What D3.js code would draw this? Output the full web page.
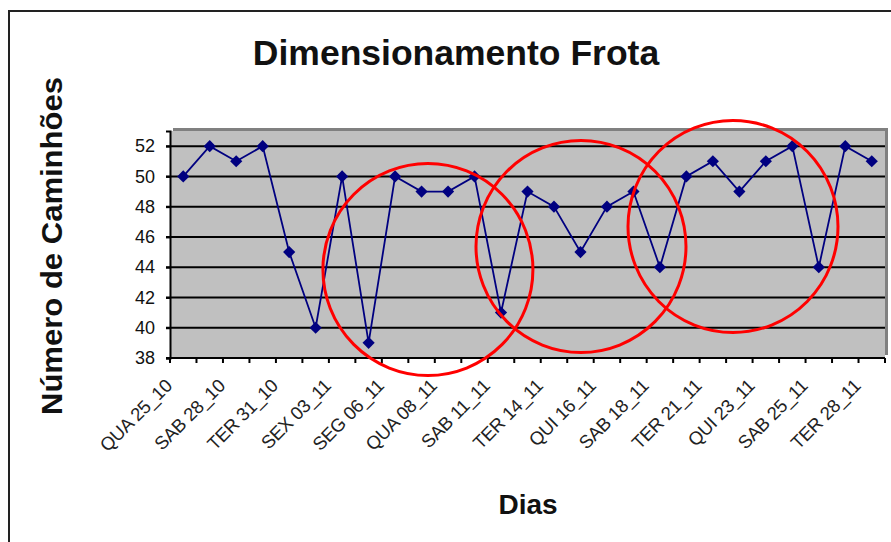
<!DOCTYPE html>
<html>
<head>
<meta charset="utf-8">
<script src="https://cdn.jsdelivr.net/npm/d3@7"></script>
<style>
  body { margin: 0; background: #fff; }
  svg { display: block; font-family: "Liberation Sans", Arial, sans-serif; }
</style>
</head>
<body>
<script>
// categories (only every second one gets a label on the axis)
var days = ['QUA 25_10', 'SEX 27_10', 'SAB 28_10', 'SEG 30_10', 'TER 31_10', 'QUI 02_11',
            'SEX 03_11', 'SAB 04_11', 'SEG 06_11', 'TER 07_11', 'QUA 08_11', 'QUI 09_11',
            'SAB 11_11', 'SEG 13_11', 'TER 14_11', 'QUA 15_11', 'QUI 16_11', 'SEX 17_11',
            'SAB 18_11', 'SEG 20_11', 'TER 21_11', 'QUA 22_11', 'QUI 23_11', 'SEX 24_11',
            'SAB 25_11', 'SEG 27_11', 'TER 28_11'];
var trucks = [50, 52, 51, 52, 45, 40, 50, 39, 50, 49, 49, 50, 41, 49,
              48, 45, 48, 49, 44, 50, 51, 49, 51, 52, 44, 52, 51];
var yTicks = [38, 40, 42, 44, 46, 48, 50, 52];
// red circles drawn on top: centre as (category index, value)
var circleIdx = [9.24, 15.02, 20.76];
var circleVal = [43.85, 45.37, 46.69];

var scr = { w: 891, h: 542 };
var plot = { left: 170, right: 885, top: 131, bottom: 358 };

var svg = d3.select('body').append('svg')
            .attr('width', scr.w)
            .attr('height', scr.h);

// outer chart border (runs off the right and bottom of the picture)
svg.append('rect')
   .attr('x', 9).attr('y', 11)
   .attr('width', 900).attr('height', 560)
   .attr('fill', '#fff')
   .attr('stroke', '#222')
   .attr('stroke-width', 2);

var xScale = d3.scaleBand()
               .domain(days)
               .range([plot.left, plot.right]);
var step = xScale.step();
var xPos = function(i){ // centre of category i (can be fractional)
  return plot.left + step * (i + 0.5);
};
var yScale = d3.scaleLinear()
               .domain([38, 53])
               .range([plot.bottom, plot.top]);

// plot area with its shadow
svg.append('rect')
   .attr('x', plot.left + 3).attr('y', plot.top - 3)
   .attr('width', plot.right - plot.left).attr('height', plot.bottom - plot.top)
   .attr('fill', '#808080');
svg.append('rect')
   .attr('x', plot.left).attr('y', plot.top)
   .attr('width', plot.right - plot.left).attr('height', plot.bottom - plot.top)
   .attr('fill', '#c0c0c0');

// gridlines
svg.append('g')
   .selectAll('line')
   .data(yTicks)
   .enter()
   .append('line')
   .attr('x1', plot.left - 4)
   .attr('x2', plot.right)
   .attr('y1', function(d){ return yScale(d); })
   .attr('y2', function(d){ return yScale(d); })
   .attr('stroke', '#000')
   .attr('stroke-width', 2);

// y axis
var yAxis = d3.axisLeft(yScale)
              .tickValues(yTicks)
              .tickSize(4)
              .tickPadding(11);
var yG = svg.append('g')
            .attr('transform', 'translate(' + plot.left + ',0)')
            .call(yAxis);
yG.select('.domain').attr('stroke', '#000').attr('stroke-width', 2);
yG.selectAll('.tick line').attr('stroke', '#000').attr('stroke-width', 2);
yG.selectAll('.tick text')
  .attr('font-family', '"Liberation Sans", Arial, sans-serif')
  .attr('font-size', 18)
  .attr('fill', '#111');

// x axis: tick marks between categories
var xTickPos = d3.range(days.length + 1);
svg.append('g')
   .selectAll('line')
   .data(xTickPos)
   .enter()
   .append('line')
   .attr('x1', function(i){ return plot.left + step * i; })
   .attr('x2', function(i){ return plot.left + step * i; })
   .attr('y1', plot.bottom)
   .attr('y2', plot.bottom + 5)
   .attr('stroke', '#000')
   .attr('stroke-width', 2);

svg.append('g')
   .selectAll('text')
   .data(days.filter(function(d, i){ return i % 2 === 0; }))
   .enter()
   .append('text')
   .attr('transform', function(d){
     return 'translate(' + (xScale(d) + step / 2 - 10) + ',' + (plot.bottom + 29) + ') rotate(-45)';
   })
   .attr('text-anchor', 'end')
   .attr('font-size', 18.5)
   .attr('letter-spacing', -0.3)
   .attr('fill', '#222')
   .text(function(d){ return d; });

// the series
var line = d3.line()
             .x(function(d, i){ return xPos(i); })
             .y(function(d){ return yScale(d); });
svg.append('path')
   .datum(trucks)
   .attr('d', line)
   .attr('fill', 'none')
   .attr('stroke', '#000080')
   .attr('stroke-width', 1.8);

var diamond = d3.symbol().type(d3.symbolDiamond2).size(95);
svg.append('g')
   .selectAll('path')
   .data(trucks)
   .enter()
   .append('path')
   .attr('transform', function(d, i){ return 'translate(' + xPos(i) + ',' + yScale(d) + ')'; })
   .attr('d', diamond)
   .attr('fill', '#000080');

// red circles
svg.append('g')
   .selectAll('ellipse')
   .data(circleIdx)
   .enter()
   .append('ellipse')
   .attr('cx', function(d){ return xPos(d); })
   .attr('cy', function(d, i){ return yScale(circleVal[i]); })
   .attr('rx', 105)
   .attr('ry', 106)
   .attr('fill', 'none')
   .attr('stroke', '#ff0000')
   .attr('stroke-width', 3);

// titles
svg.append('text')
   .attr('x', 456).attr('y', 65)
   .attr('text-anchor', 'middle')
   .attr('font-size', 35.5)
   .attr('font-weight', 'bold')
   .attr('fill', '#111')
   .text('Dimensionamento Frota');

svg.append('text')
   .attr('transform', 'translate(62,246) rotate(-90)')
   .attr('text-anchor', 'middle')
   .attr('font-size', 29)
   .attr('font-weight', 'bold')
   .attr('fill', '#111')
   .attr('textLength', 338)
   .attr('lengthAdjust', 'spacingAndGlyphs')
   .text('Número de Caminhões');

svg.append('text')
   .attr('x', 528).attr('y', 514)
   .attr('text-anchor', 'middle')
   .attr('font-size', 28)
   .attr('font-weight', 'bold')
   .attr('fill', '#111')
   .text('Dias');
</script>
</body>
</html>
